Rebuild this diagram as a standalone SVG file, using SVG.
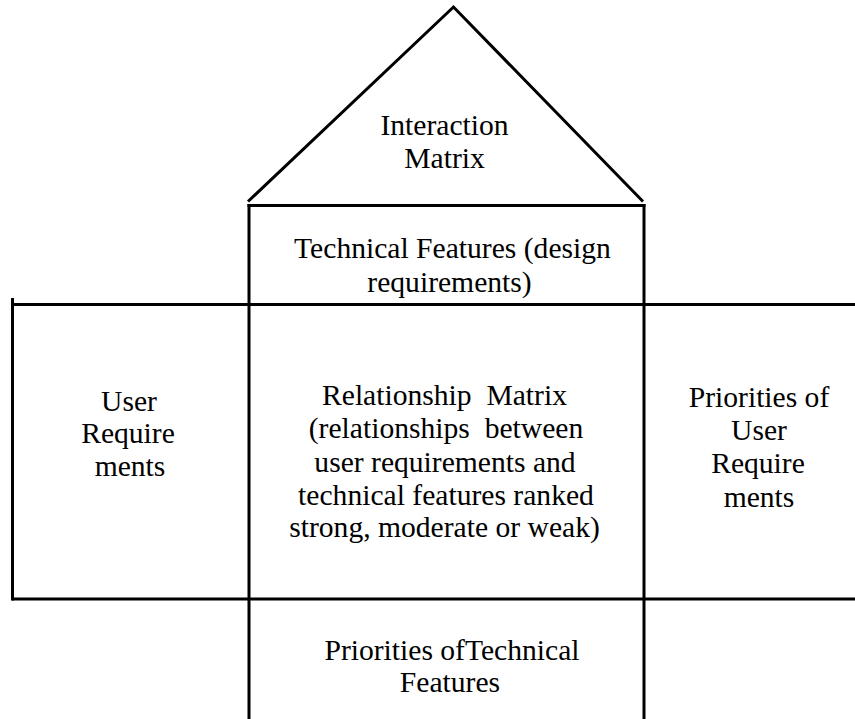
<svg xmlns="http://www.w3.org/2000/svg" width="855" height="719" viewBox="0 0 855 719">
  <style>
    .rule { stroke: #000; stroke-width: 3; fill: none; stroke-linecap: butt; stroke-linejoin: miter; }
    .label { font-family: "Liberation Serif", "Times New Roman", serif; font-size: 29.6px; fill: #000; text-anchor: middle; }
  </style>
  <rect width="855" height="719" fill="#fff"/>

  <!-- frame lines of the house -->
  <g id="connectors">
    <polyline class="rule" points="248,201.5 453.5,7 643,201.5"/>
    <line class="rule" x1="249" y1="204" x2="249" y2="719"/>
    <line class="rule" x1="644" y1="204" x2="644" y2="719"/>
    <line class="rule" x1="247.5" y1="205.5" x2="645.5" y2="205.5"/>
    <line class="rule" x1="12" y1="304.5" x2="855" y2="304.5"/>
    <line class="rule" x1="12" y1="599" x2="855" y2="599"/>
    <line class="rule" x1="12.5" y1="298" x2="12.5" y2="600.5"/>
  </g>

  <g id="interaction-matrix">
    <text class="label" x="444.5" y="135">Interaction</text>
    <text class="label" x="444.5" y="168">Matrix</text>
  </g>

  <g id="technical-features">
    <text class="label" x="452.5" y="258">Technical Features (design</text>
    <text class="label" x="449.5" y="292">requirements)</text>
  </g>

  <g id="user-requirements">
    <text class="label" x="129" y="411">User</text>
    <text class="label" x="128" y="443">Require</text>
    <text class="label" x="130" y="476">ments</text>
  </g>

  <g id="relationship-matrix">
    <text class="label" x="444.5" y="405" xml:space="preserve">Relationship  Matrix</text>
    <text class="label" x="446" y="438" xml:space="preserve">(relationships  between</text>
    <text class="label" x="445" y="472">user requirements and</text>
    <text class="label" x="446" y="505">technical features ranked</text>
    <text class="label" x="444.5" y="537">strong, moderate or weak)</text>
  </g>

  <g id="priorities-user-requirements">
    <text class="label" x="759" y="407">Priorities of</text>
    <text class="label" x="759" y="440">User</text>
    <text class="label" x="758" y="473">Require</text>
    <text class="label" x="759" y="507">ments</text>
  </g>

  <g id="priorities-technical-features">
    <text class="label" x="452" y="660">Priorities ofTechnical</text>
    <text class="label" x="450" y="692">Features</text>
  </g>
</svg>
